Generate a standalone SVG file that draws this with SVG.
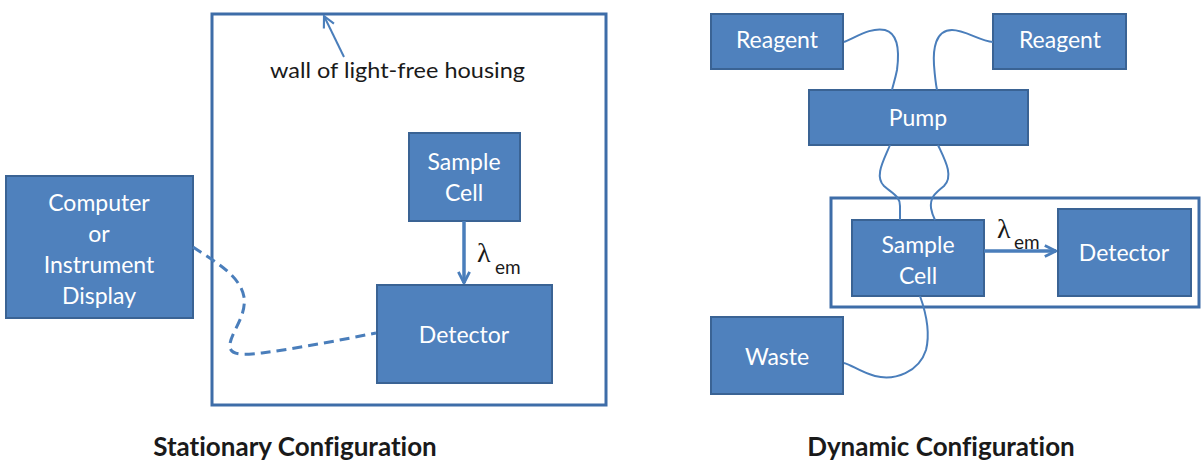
<svg xmlns="http://www.w3.org/2000/svg" width="1202" height="465" viewBox="0 0 1202 465">
<style>
text{font-variant-ligatures:none}
.box{fill:#4F81BD;stroke:#3A6394;stroke-width:2}
.lbl{font-family:Lato,"Open Sans","Liberation Sans",sans-serif;font-size:23px;fill:#FFFFFF;text-anchor:middle}
.wall{fill:none;stroke:#3E6DA8;stroke-width:3}
.tube{fill:none;stroke:#4A7EBB;stroke-width:2}
.arrow{fill:none;stroke:#4A7EBB;stroke-width:3.5}
.title{font-family:Lato,"Open Sans","Liberation Sans",sans-serif;font-size:26px;font-weight:bold;fill:#1a1a1a;text-anchor:middle}
.note{font-family:Lato,"Open Sans","Liberation Sans",sans-serif;font-size:22px;fill:#1a1a1a}
.lam{font-family:"Liberation Serif",serif;font-size:28px;fill:#1a1a1a}
.sub{font-family:Lato,"Open Sans","Liberation Sans",sans-serif;font-size:19px;fill:#1a1a1a}
</style>
<defs>
<marker id="ah" viewBox="0 0 10 10" refX="9" refY="5" markerWidth="4" markerHeight="4" orient="auto" markerUnits="strokeWidth">
<path d="M1,1 L9,5 L1,9" fill="none" stroke="#4A7EBB" stroke-width="2"/>
</marker>
<marker id="ahs" viewBox="0 0 10 10" refX="9" refY="5" markerWidth="7" markerHeight="7" orient="auto" markerUnits="strokeWidth">
<path d="M1,1 L9,5 L1,9" fill="none" stroke="#4A7EBB" stroke-width="1.5"/>
</marker>
</defs>
<rect width="1202" height="465" fill="#FFFFFF"/>

<!-- Stationary configuration -->
<g id="housing-left">
<rect class="wall" x="212" y="14" width="394" height="391"/>
<line x1="344" y1="57" x2="324" y2="16" stroke="#4A7EBB" stroke-width="2" marker-end="url(#ahs)"/>
<text class="note" x="270" y="78" textLength="255" lengthAdjust="spacingAndGlyphs">wall of light-free housing</text>
</g>
<g id="computer">
<rect class="box" x="6" y="176" width="187" height="142"/>
<text class="lbl" x="99" y="211">Computer</text>
<text class="lbl" x="99" y="242">or</text>
<text class="lbl" x="99" y="273">Instrument</text>
<text class="lbl" x="99" y="304">Display</text>
</g>
<g id="sample-cell-left">
<rect class="box" x="409" y="133" width="111" height="88"/>
<text class="lbl" x="464" y="170">Sample</text>
<text class="lbl" x="464" y="201">Cell</text>
</g>
<g id="detector-left">
<rect class="box" x="377" y="285" width="175" height="98"/>
<text class="lbl" x="464" y="343">Detector</text>
</g>

<!-- Dynamic configuration -->
<g id="housing-right">
<rect class="wall" x="831" y="198" width="368" height="109"/>
</g>
<g id="reagent-1">
<rect class="box" x="711" y="14" width="132" height="55"/>
<text class="lbl" x="777" y="48">Reagent</text>
</g>
<g id="reagent-2">
<rect class="box" x="993" y="14" width="133" height="55"/>
<text class="lbl" x="1060" y="48">Reagent</text>
</g>
<g id="pump">
<rect class="box" x="809" y="90" width="219" height="55"/>
<text class="lbl" x="918" y="126">Pump</text>
</g>
<g id="sample-cell-right">
<rect class="box" x="852" y="220" width="132" height="76"/>
<text class="lbl" x="918" y="253">Sample</text>
<text class="lbl" x="918" y="284">Cell</text>
</g>
<g id="detector-right">
<rect class="box" x="1058" y="209" width="133" height="87"/>
<text class="lbl" x="1124" y="261">Detector</text>
</g>
<g id="waste">
<rect class="box" x="711" y="317" width="132" height="77"/>
<text class="lbl" x="777" y="365">Waste</text>
</g>

<g id="connectors">
<path class="arrow" d="M464,221 L464,283" marker-end="url(#ah)"/>
<text class="lam" x="477" y="262">λ</text>
<text class="sub" x="495" y="274">em</text>
<path d="M193,247 C215,262 240,275 244,297 C247,318 228,335 230,348 C233,357 250,354 262,353 C300,348 340,340 376,333" fill="none" stroke="#4A7EBB" stroke-width="3" stroke-dasharray="10,6"/>
<path class="arrow" d="M984,251 L1056,251" marker-end="url(#ah)"/>
<text class="lam" x="997" y="238">λ</text>
<text class="sub" x="1014" y="249">em</text>
<path class="tube" d="M844,42 C858,36 872,27 885,30 C900,34 899,55 897,70 C895,80 893,85 892,90"/>
<path class="tube" d="M993,42 C980,41 965,30 952,30 C935,30 933,50 934,65 C935,78 936,85 937,90"/>
<path class="tube" d="M890,145 C884,160 874,176 884,186 C893,194 900,196 900,206 L900,220"/>
<path class="tube" d="M938,145 C945,160 954,176 944,186 C934,194 930,198 931,208 C932,214 934,218 935,220"/>
<path class="tube" d="M920,296 C925,310 931,330 926,350 C919,372 895,381 875,376 C860,372 852,365 844,363"/>
</g>

<g id="titles">
<text class="title" x="295" y="456">Stationary Configuration</text>
<text class="title" x="941" y="456">Dynamic Configuration</text>
</g>
</svg>
